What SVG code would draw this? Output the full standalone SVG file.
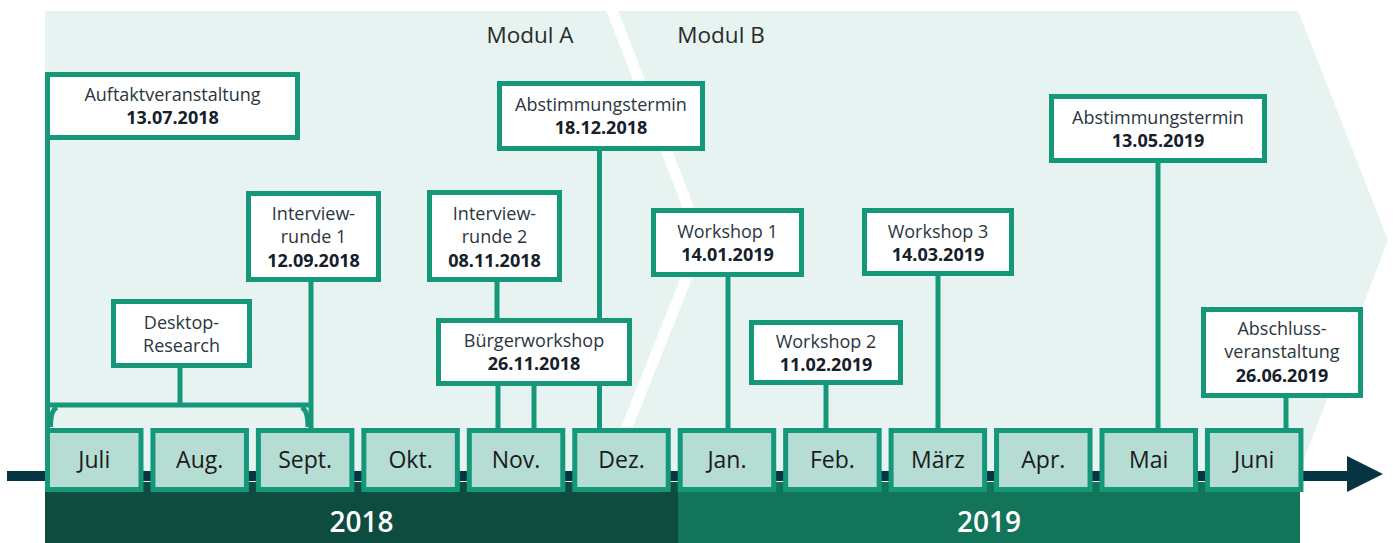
<svg xmlns="http://www.w3.org/2000/svg" width="1393" height="543" viewBox="0 0 1393 543">
<style>
text{font-family:"Open Sans","Noto Sans","Liberation Sans",sans-serif;text-anchor:middle}
.box{fill:#ffffff;stroke:#15977a;stroke-width:5}
.mon{fill:#b5ddd4;stroke:#15977a;stroke-width:5}
.lbl{font-size:18px;fill:#2a3640}
.date{font-size:18px;font-weight:700;fill:#15202b}
.mt{font-size:23px;fill:#1b1b1b}
.yr{font-size:28px;fill:#ffffff;font-weight:600}
.mod{font-size:22.5px;fill:#2a2a2a}
.con{stroke:#15977a;stroke-width:5;fill:none}
</style>
<g id="background">
<path d="M45,11 H1298 L1388,240 L1303,462 L1303,482 H45 Z" fill="#e6f3f0"/>
<path d="M609.5,4 L684,196 Q702,240 684,284 L621,442" fill="none" stroke="#ffffff" stroke-width="11"/>
<text class="mod" x="530" y="43">Modul A</text>
<text class="mod" x="721" y="43">Modul B</text>
</g>
<g id="timeline">
<rect x="7" y="471" width="1343" height="10" fill="#073443"/>
<polygon points="1347,456 1383,474 1347,492" fill="#073443"/>
<rect x="45" y="482" width="633" height="61" fill="#0e4c3f"/>
<rect x="678" y="482" width="622" height="61" fill="#127459"/>
<text class="yr" x="361.5" y="532">2018</text>
<text class="yr" x="989" y="532">2019</text>
</g>
<g id="connectors" class="con">
<path d="M47.5,140 V430"/>
<path d="M47.5,405 H311"/>
<path d="M180,368 V405"/>
<path d="M50.5,427 Q50.5,410 57,407.5"/>
<path d="M308,427 Q308,410 301.5,407.5"/>
<path d="M311,282 V430"/>
<path d="M497,282 V320"/>
<path d="M599.5,151 V320"/>
<path d="M498,386 V430"/>
<path d="M534,386 V430"/>
<path d="M599.5,386 V430"/>
<path d="M728,277 V430"/>
<path d="M826,385 V430"/>
<path d="M938,276 V430"/>
<path d="M1158,163 V430"/>
<path d="M1286,398 V430"/>
</g>
<g id="months">
<g id="m-juli"><rect class="mon" x="47.5" y="430.5" width="93.5" height="59"/><text class="mt" x="94.25" y="468">Juli</text></g>
<g id="m-aug"><rect class="mon" x="152.95" y="430.5" width="93.5" height="59"/><text class="mt" x="199.7" y="468">Aug.</text></g>
<g id="m-sept"><rect class="mon" x="258.4" y="430.5" width="93.5" height="59"/><text class="mt" x="305.15" y="468">Sept.</text></g>
<g id="m-okt"><rect class="mon" x="363.85" y="430.5" width="93.5" height="59"/><text class="mt" x="410.6" y="468">Okt.</text></g>
<g id="m-nov"><rect class="mon" x="469.3" y="430.5" width="93.5" height="59"/><text class="mt" x="516.05" y="468">Nov.</text></g>
<g id="m-dez"><rect class="mon" x="574.75" y="430.5" width="93.5" height="59"/><text class="mt" x="621.5" y="468">Dez.</text></g>
<g id="m-jan"><rect class="mon" x="680.2" y="430.5" width="93.5" height="59"/><text class="mt" x="726.95" y="468">Jan.</text></g>
<g id="m-feb"><rect class="mon" x="785.65" y="430.5" width="93.5" height="59"/><text class="mt" x="832.4" y="468">Feb.</text></g>
<g id="m-maerz"><rect class="mon" x="891.1" y="430.5" width="93.5" height="59"/><text class="mt" x="937.85" y="468">März</text></g>
<g id="m-apr"><rect class="mon" x="996.55" y="430.5" width="93.5" height="59"/><text class="mt" x="1043.3" y="468">Apr.</text></g>
<g id="m-mai"><rect class="mon" x="1102" y="430.5" width="93.5" height="59"/><text class="mt" x="1148.75" y="468">Mai</text></g>
<g id="m-juni"><rect class="mon" x="1207.45" y="430.5" width="93.5" height="59"/><text class="mt" x="1254.2" y="468">Juni</text></g>
</g>
<g id="n-auftakt"><rect class="box" x="47.5" y="74.5" width="250" height="63"/><text class="lbl" x="172.5" y="101">Auftaktveranstaltung</text><text class="date" x="172.5" y="124">13.07.2018</text></g>
<g id="n-desktop"><rect class="box" x="113.5" y="301.5" width="136" height="64"/><text class="lbl" x="181.5" y="329">Desktop-</text><text class="lbl" x="181.5" y="352">Research</text></g>
<g id="n-interview1"><rect class="box" x="248.5" y="193.5" width="130" height="86"/><text class="lbl" x="313.5" y="220">Interview-</text><text class="lbl" x="313.5" y="243">runde 1</text><text class="date" x="313.5" y="267">12.09.2018</text></g>
<g id="n-interview2"><rect class="box" x="429.5" y="192.5" width="130" height="87"/><text class="lbl" x="494.5" y="220">Interview-</text><text class="lbl" x="494.5" y="243">runde 2</text><text class="date" x="494.5" y="267">08.11.2018</text></g>
<g id="n-buerger"><rect class="box" x="438.5" y="320.5" width="191" height="63"/><text class="lbl" x="534" y="347">Bürgerworkshop</text><text class="date" x="534" y="370">26.11.2018</text></g>
<g id="n-abstimmung1"><rect class="box" x="499.5" y="83.5" width="203" height="65"/><text class="lbl" x="601" y="111">Abstimmungstermin</text><text class="date" x="601" y="134">18.12.2018</text></g>
<g id="n-workshop1"><rect class="box" x="653.5" y="210.5" width="148" height="64"/><text class="lbl" x="727.5" y="238">Workshop 1</text><text class="date" x="727.5" y="261">14.01.2019</text></g>
<g id="n-workshop2"><rect class="box" x="751.5" y="322.5" width="149" height="60"/><text class="lbl" x="826" y="348">Workshop 2</text><text class="date" x="826" y="371">11.02.2019</text></g>
<g id="n-workshop3"><rect class="box" x="864.5" y="210.5" width="147" height="63"/><text class="lbl" x="938" y="238">Workshop 3</text><text class="date" x="938" y="261">14.03.2019</text></g>
<g id="n-abstimmung2"><rect class="box" x="1051.5" y="96.5" width="213" height="64"/><text class="lbl" x="1158" y="124">Abstimmungstermin</text><text class="date" x="1158" y="147">13.05.2019</text></g>
<g id="n-abschluss"><rect class="box" x="1203.5" y="309.5" width="157" height="86"/><text class="lbl" x="1282" y="335">Abschluss-</text><text class="lbl" x="1282" y="358">veranstaltung</text><text class="date" x="1282" y="382">26.06.2019</text></g>
</svg>
